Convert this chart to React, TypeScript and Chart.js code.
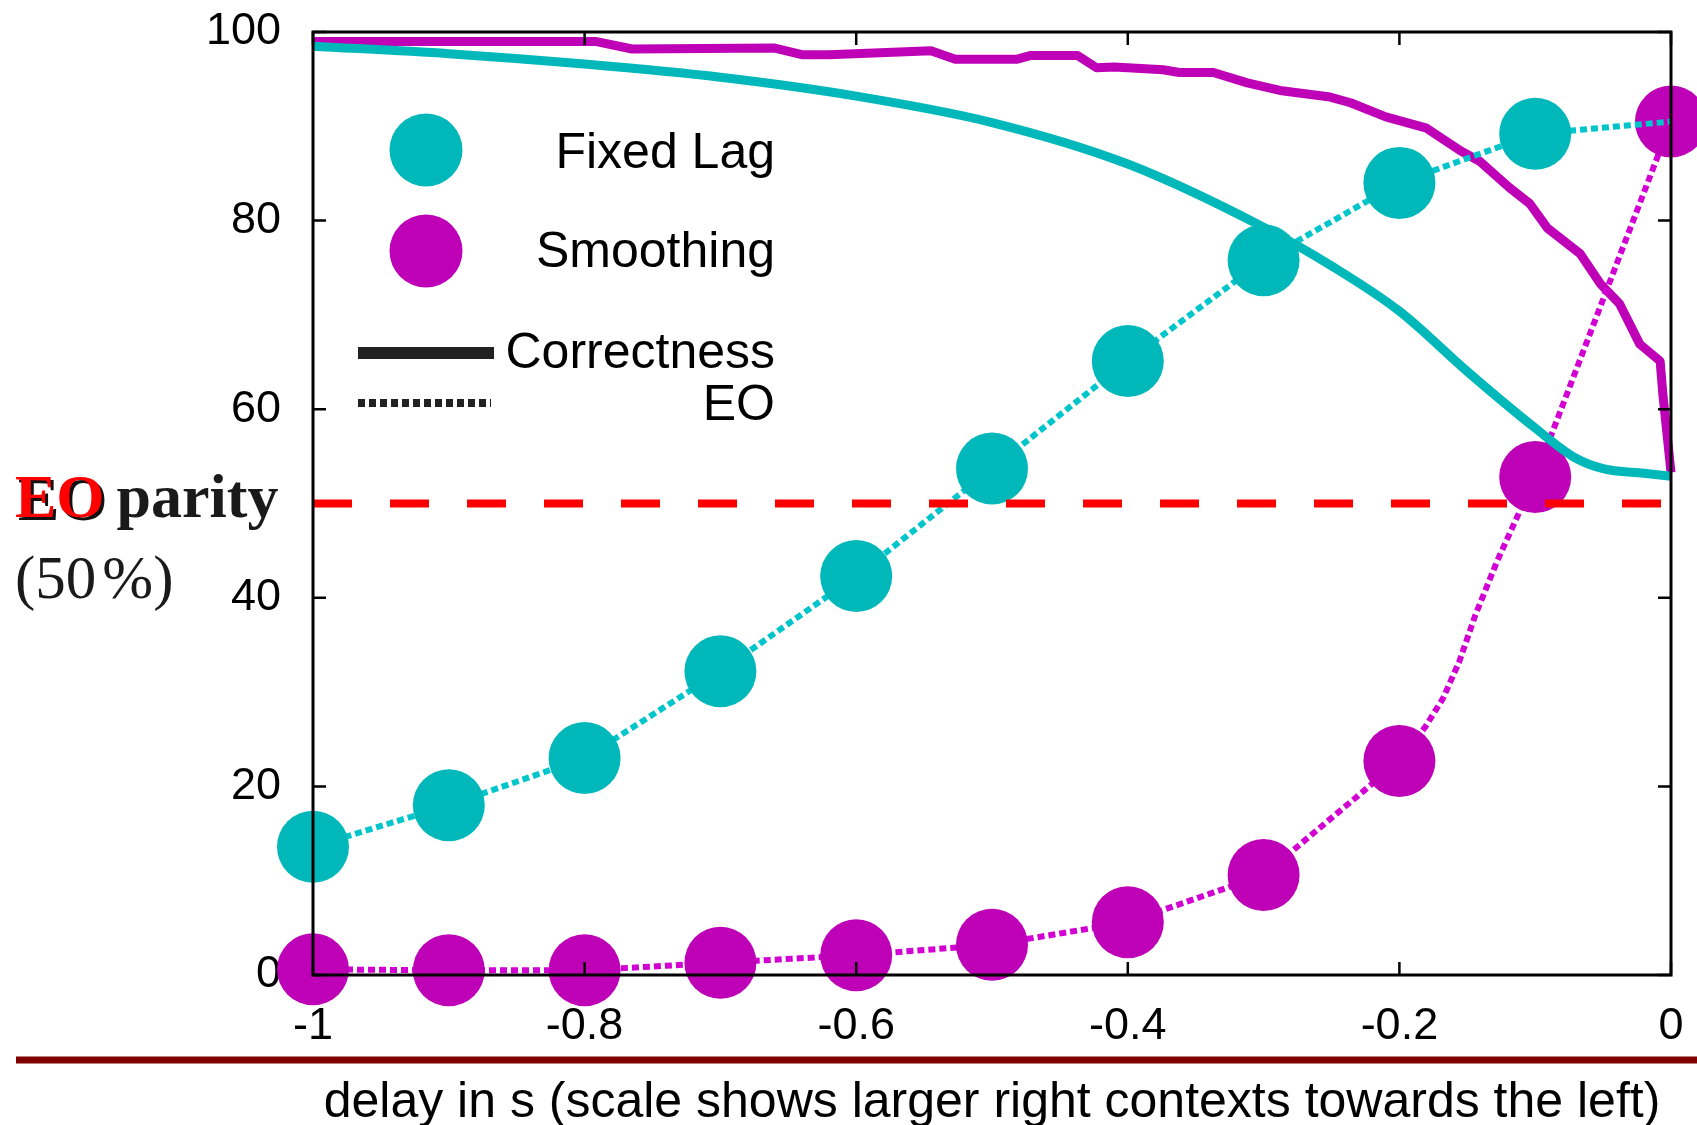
import React, { useEffect, useRef } from "react";
import { Chart, registerables } from "chart.js";

Chart.register(...registerables);

// ---------- data ----------
const xTickValues = [-1, -0.8, -0.6, -0.4, -0.2, 0];
const xTickLabels = ["-1", "-0.8", "-0.6", "-0.4", "-0.2", "0"];
const yTickValues = [0, 20, 40, 60, 80, 100];
const yTickLabels = ["0", "20", "40", "60", "80", "100"];

// EO (dotted lines with big markers)
const fixedLagMarkerDelays = [-1, -0.9, -0.8, -0.7, -0.6, -0.5, -0.4, -0.3, -0.2, -0.1];
const fixedLagMarkerEo = [13.6, 18.0, 23.0, 32.2, 42.3, 53.7, 65.1, 75.8, 84.0, 89.2];
const fixedLagEoLineDelays = [-1, -0.9, -0.8, -0.7, -0.6, -0.5, -0.4, -0.3, -0.2, -0.1, 0];
const fixedLagEoLine = [13.6, 18.0, 23.0, 32.2, 42.3, 53.7, 65.1, 75.8, 84.0, 89.2, 90.5];

const smoothingMarkerDelays = [-1, -0.9, -0.8, -0.7, -0.6, -0.5, -0.4, -0.3, -0.2, -0.1, 0];
const smoothingMarkerEo = [0.6, 0.5, 0.5, 1.3, 2.1, 3.2, 5.6, 10.6, 22.7, 52.8, 90.5];
const smoothingEoLineDelays = [-1, -0.9, -0.8, -0.7, -0.6, -0.5, -0.4, -0.3, -0.2, -0.181, -0.168, -0.156, -0.144, -0.128, -0.1, 0];
const smoothingEoLine = [0.6, 0.5, 0.5, 1.3, 2.1, 3.2, 5.6, 10.6, 22.7, 26.3, 29.3, 33.2, 38.2, 43.9, 52.8, 90.5];

// Correctness (solid lines)
const fixedLagCorrDelays = [-1, -0.9, -0.8, -0.7, -0.6, -0.5, -0.4, -0.3, -0.25, -0.2, -0.15, -0.1, -0.07, -0.05, -0.02, 0];
const fixedLagCorr = [98.5, 97.7, 96.6, 95.2, 93.2, 90.4, 86.0, 79.3, 75.2, 70.4, 64.0, 58.0, 54.8, 53.7, 53.2, 52.9];

const smoothingCorrDelays = [-1, -0.792, -0.765, -0.66, -0.64, -0.62, -0.545, -0.527, -0.482, -0.472, -0.437, -0.423, -0.41, -0.374, -0.362, -0.337, -0.312, -0.288, -0.251, -0.236, -0.21, -0.18, -0.155, -0.141, -0.119, -0.104, -0.091, -0.067, -0.052, -0.038, -0.023, -0.008, -0.006, 0];
const smoothingCorr = [99.0, 99.0, 98.2, 98.3, 97.6, 97.6, 98.0, 97.1, 97.1, 97.5, 97.5, 96.2, 96.3, 96.0, 95.7, 95.7, 94.6, 93.8, 93.1, 92.5, 91.0, 89.8, 87.4, 86.3, 83.5, 81.8, 79.2, 76.5, 73.3, 71.2, 66.9, 65.1, 61.6, 53.3];

const parityDelays = [-1, 0];
const parityLevel = [50, 50];

const legendSeries = ["Fixed Lag", "Smoothing"];
const legendStyles = ["Correctness", "EO"];
const xTitle = "delay in s (scale shows larger right contexts towards the left)";
const parityLabelA = "EO";
const parityLabelB = "parity";
const parityLabelC1 = "(50";
const parityLabelC2 = "%)";

// ---------- styles ----------
const CYAN = "#00B8BA";
const CYAN_DOT = "#00C6CC";
const MAGENTA = "#BE00B6";
const MAGENTA_DOT = "#D200D2";
const SANS = "'Liberation Sans', Arial, Helvetica, sans-serif";
const SERIF = "'Liberation Serif', 'Times New Roman', serif";

const pts = (xs: number[], ys: number[]) => xs.map((x, i) => ({ x, y: ys[i] }));

const framePlugin = {
  id: "frameAndDecor",
  afterDatasetsDraw(chart: any) {
    const { ctx, chartArea: a, scales } = chart;
    ctx.save();
    // frame
    ctx.strokeStyle = "#000";
    ctx.lineWidth = 3;
    ctx.strokeRect(a.left, a.top, a.right - a.left, a.bottom - a.top);
    // inward ticks, mirrored
    const tl = 13;
    ctx.lineWidth = 2.5;
    ctx.beginPath();
    xTickValues.forEach((v) => {
      const px = scales.x.getPixelForValue(v);
      ctx.moveTo(px, a.bottom);
      ctx.lineTo(px, a.bottom - tl);
      ctx.moveTo(px, a.top);
      ctx.lineTo(px, a.top + tl);
    });
    yTickValues.forEach((v) => {
      const py = scales.y.getPixelForValue(v);
      ctx.moveTo(a.left, py);
      ctx.lineTo(a.left + tl, py);
      ctx.moveTo(a.right, py);
      ctx.lineTo(a.right - tl, py);
    });
    ctx.stroke();

    // legend
    const lx = a.left;
    const ly = a.top - 1;
    const textRight = lx + 462;
    ctx.fillStyle = CYAN;
    ctx.beginPath();
    ctx.arc(lx + 113, ly + 119, 36.5, 0, Math.PI * 2);
    ctx.fill();
    ctx.fillStyle = MAGENTA;
    ctx.beginPath();
    ctx.arc(lx + 113, ly + 220, 36.5, 0, Math.PI * 2);
    ctx.fill();

    ctx.strokeStyle = "#222";
    ctx.lineCap = "butt";
    ctx.lineWidth = 12;
    ctx.beginPath();
    ctx.moveTo(lx + 45, ly + 322);
    ctx.lineTo(lx + 181, ly + 322);
    ctx.stroke();
    ctx.lineWidth = 8;
    ctx.setLineDash([7, 4]);
    ctx.beginPath();
    ctx.moveTo(lx + 45, ly + 372);
    ctx.lineTo(lx + 178, ly + 372);
    ctx.stroke();
    ctx.setLineDash([]);

    ctx.fillStyle = "#000";
    ctx.font = `50px ${SANS}`;
    ctx.textAlign = "right";
    ctx.textBaseline = "alphabetic";
    ctx.fillText(legendSeries[0], textRight, ly + 137);
    ctx.fillText(legendSeries[1], textRight, ly + 236);
    ctx.fillText(legendStyles[0], textRight, ly + 337);
    ctx.fillText(legendStyles[1], textRight, ly + 389);
    ctx.restore();
  },
  afterDraw(chart: any) {
    const { ctx, chartArea: a, scales } = chart;
    ctx.save();
    // parity annotation on the left
    const y50 = scales.y.getPixelForValue(parityLevel[0]);
    ctx.textAlign = "left";
    ctx.textBaseline = "alphabetic";
    ctx.font = `bold 62px ${SERIF}`;
    const bx = 15;
    const by = y50 + 13;
    ctx.fillStyle = "#111";
    ctx.fillText(parityLabelA, bx + 3, by + 3);
    ctx.fillStyle = "#FF0000";
    ctx.fillText(parityLabelA, bx, by);
    const w = ctx.measureText(parityLabelA).width;
    ctx.fillStyle = "#1a1a1a";
    ctx.fillText(parityLabelB, bx + w + 12, by);
    ctx.font = `61px ${SERIF}`;
    ctx.fillStyle = "#1a1a1a";
    const c1x = 15;
    ctx.fillText(parityLabelC1, c1x, y50 + 94);
    const w1 = ctx.measureText(parityLabelC1).width;
    ctx.fillText(parityLabelC2, c1x + w1 + 6, y50 + 94);

    // dark red rule below tick labels
    ctx.strokeStyle = "#800000";
    ctx.lineWidth = 7;
    ctx.beginPath();
    ctx.moveTo(16, a.bottom + 85);
    ctx.lineTo(chart.width, a.bottom + 85);
    ctx.stroke();
    ctx.restore();
  },
};

export default function App() {
  const canvasRef = useRef<HTMLCanvasElement | null>(null);

  useEffect(() => {
    document.body.style.margin = "0";
    document.body.style.overflow = "hidden";
    const canvas = canvasRef.current;
    if (!canvas) return;

    const dotted = (data: any, color: string) => ({
      data,
      showLine: true,
      borderColor: color,
      borderWidth: 6,
      borderDash: [7, 4],
      borderCapStyle: "butt",
      pointRadius: 0,
      fill: false,
      clip: false,
    });
    const markers = (data: any, color: string) => ({
      data,
      showLine: false,
      pointRadius: 36,
      pointHoverRadius: 36,
      pointBorderWidth: 0,
      pointBackgroundColor: color,
      pointBorderColor: color,
      pointStyle: "circle",
      clip: false,
    });
    const solid = (data: any, color: string, tension: number) => ({
      data,
      showLine: true,
      borderColor: color,
      borderWidth: 9,
      borderJoinStyle: "round",
      borderCapStyle: "butt",
      pointRadius: 0,
      tension,
      cubicInterpolationMode: tension > 0 ? "monotone" : "default",
      fill: false,
      clip: false,
    });

    const chart = new Chart(canvas, {
      type: "scatter",
      data: {
        datasets: [
          {
            data: pts(parityDelays, parityLevel),
            showLine: true,
            borderColor: "#FF0000",
            borderWidth: 8,
            borderDash: [39, 38],
            borderCapStyle: "butt",
            pointRadius: 0,
            clip: false,
          } as any,
          solid(pts(fixedLagCorrDelays, fixedLagCorr), CYAN, 0.4),
          markers(pts(fixedLagMarkerDelays, fixedLagMarkerEo), CYAN),
          dotted(pts(fixedLagEoLineDelays, fixedLagEoLine), CYAN_DOT),
          markers(pts(smoothingMarkerDelays, smoothingMarkerEo), MAGENTA),
          dotted(pts(smoothingEoLineDelays, smoothingEoLine), MAGENTA_DOT),
          solid(pts(smoothingCorrDelays, smoothingCorr), MAGENTA, 0),
        ] as any,
      },
      options: {
        animation: false,
        responsive: false,
        maintainAspectRatio: false,
        events: [],
        layout: { autoPadding: false, padding: { left: 0, right: 26, top: 32, bottom: 0 } },
        plugins: {
          legend: { display: false },
          tooltip: { enabled: false },
          title: { display: false },
        },
        scales: {
          x: {
            type: "linear",
            min: -1,
            max: 0,
            grid: { display: false, drawTicks: true, tickLength: 25 },
            border: { display: false },
            afterBuildTicks: (s: any) => {
              s.ticks = xTickValues.map((v) => ({ value: v }));
            },
            ticks: {
              callback: (_v: any, i: number) => xTickLabels[i],
              font: { family: SANS, size: 45 },
              color: "#000",
              padding: 0,
              maxRotation: 0,
              autoSkip: false,
            },
            title: {
              display: true,
              text: xTitle,
              color: "#000",
              font: { family: SANS, size: 50, lineHeight: 1.0 },
              padding: { top: 0, bottom: -3 },
            },
            afterFit: (s: any) => {
              s.height = 150;
              s.paddingLeft = 0;
              s.paddingRight = 0;
            },
          },
          y: {
            type: "linear",
            min: 0,
            max: 100,
            grid: { display: false, drawTicks: true, tickLength: 32 },
            border: { display: false },
            afterBuildTicks: (s: any) => {
              s.ticks = yTickValues.map((v) => ({ value: v }));
            },
            ticks: {
              callback: (_v: any, i: number) => yTickLabels[i],
              font: { family: SANS, size: 45 },
              color: "#000",
              padding: 0,
              autoSkip: false,
            },
            afterFit: (s: any) => {
              s.width = 313;
              s.paddingTop = 0;
              s.paddingBottom = 0;
            },
          },
        },
      } as any,
      plugins: [framePlugin],
    });

    return () => chart.destroy();
  }, []);

  return (
    <div style={{ position: "absolute", left: 0, top: 0, width: 1697, height: 1125, background: "#fff" }}>
      <canvas ref={canvasRef} width={1697} height={1125} style={{ display: "block", width: 1697, height: 1125 }} />
    </div>
  );
}
